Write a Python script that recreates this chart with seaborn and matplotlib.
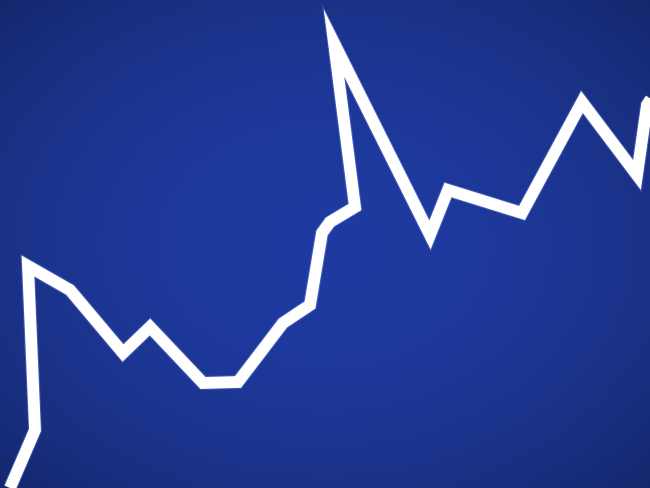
import numpy as np
import pandas as pd
import matplotlib
matplotlib.use("Agg")
import matplotlib.pyplot as plt
import seaborn as sns

# trace of the chart line (x position, height above bottom edge)
x_pos = [10, 35, 28, 70, 123, 150, 203, 238, 283, 310, 322, 330, 355, 334,
         430, 448, 522, 582, 637, 647, 655]
height = [0, 58, 222, 198, 135, 161, 105, 106, 165, 183, 255, 266, 281, 445,
          253, 298, 275, 386, 313, 383, 395]

df = pd.DataFrame({"x": x_pos, "y": height, "order": range(len(x_pos))})

sns.set_theme(style="white")
fig = plt.figure(figsize=(6.5, 4.88), dpi=100)
ax = fig.add_axes([0, 0, 1, 1])

# blue screen background with a soft vignette
gx, gy = np.meshgrid(np.linspace(-1, 1, 260), np.linspace(-1, 1, 200))
r = np.sqrt(gx ** 2 + gy ** 2)
shade = np.clip(1 - 0.16 * r ** 2, 0, 1)
base = np.array([0.12, 0.23, 0.63])
img = shade[..., None] * base
ax.imshow(img, extent=[0, 650, 0, 488], aspect="auto", zorder=0)

# faint glow under the line
sns.lineplot(data=df, x="x", y="y", sort=False, ax=ax, color="#8fa8ff",
             linewidth=10, alpha=0.3, zorder=2)
sns.lineplot(data=df, x="x", y="y", sort=False, ax=ax, color="white",
             linewidth=8.5, zorder=3)
for ln in ax.lines:
    ln.set_solid_joinstyle("miter")
    ln.set_solid_capstyle("butt")

ax.set_xlim(0, 650)
ax.set_ylim(0, 488)
ax.set_axis_off()

fig.savefig("out.png", dpi=100)
